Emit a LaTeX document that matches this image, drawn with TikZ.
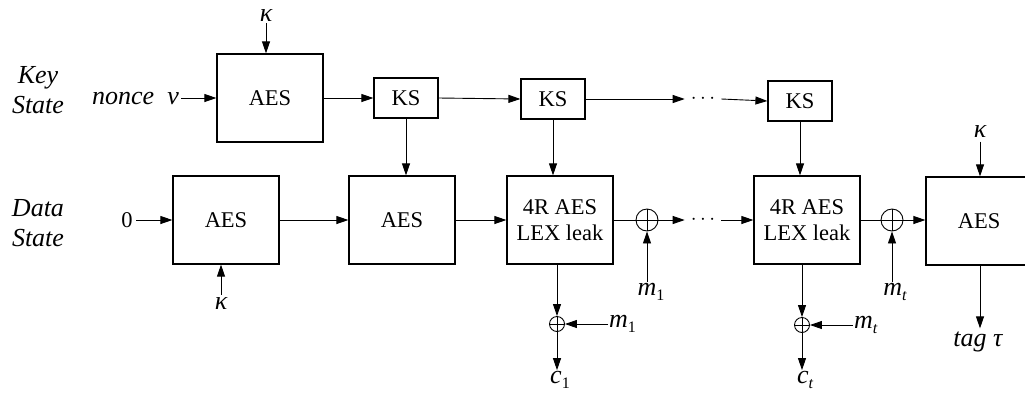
\documentclass[tikz,border=0pt]{standalone}
\usepackage{fontspec}
\setmainfont{Liberation Serif}
\usetikzlibrary{arrows.meta}
\newcommand{\subx}[1]{\raisebox{-5pt}{\fontsize{16}{16}\selectfont #1}}
\begin{document}
\begin{tikzpicture}[x=1pt,y=-1pt,
  every node/.style={font=\fontsize{22.5}{26}\selectfont},
  it/.style={font=\itshape\fontsize{26}{30}\selectfont},
  blk/.style={draw,line width=1.2pt,inner sep=0pt,align=center},
  big/.style={blk,minimum width=106pt,minimum height=88pt},
  ksb/.style={blk,minimum width=64pt,minimum height=40pt},
  arr/.style={line width=0.9pt,-{Triangle[length=12pt,width=8pt]}},
  ln/.style={line width=0.9pt},
  side/.style={it,align=center},
  xorb/.style={circle,draw,line width=0.9pt,minimum size=22pt,inner sep=0pt,
    path picture={\draw[line width=0.9pt]
      (path picture bounding box.north) -- (path picture bounding box.south)
      (path picture bounding box.west) -- (path picture bounding box.east);}},
  xors/.style={xorb,minimum size=15pt}]
\useasboundingbox (0,0) rectangle (1025,392);

% side labels
\node[side] (keylab) at (38,90) {Key\\State};
\node[side] (datalab) at (38,223) {Data\\State};

% key row
\node[big] (kaes) at (270,98) {AES};
\node[it,inner sep=1pt] (k1) at (266,16) {κ};
\node[it,anchor=east,inner sep=2pt] (nonce) at (181,98) {nonce\ \ ν};
\node[ksb] (ks1) at (406,98) {KS};
\node[ksb] (ks2) at (553,99) {KS};
\node[inner sep=6pt] (dk) at (703,99) {$\cdots$};
\node[ksb] (ks3) at (800,101) {KS};

\draw[arr] (k1.south) -- (k1.south |- kaes.north);
\draw[arr] (nonce.east) -- (kaes.west);
\draw[arr] (kaes.east |- ks1.west) -- (ks1.west);
\draw[arr] (ks1.east) -- (ks2.west);
\draw[arr] (ks2.east) -- (dk.west);
\draw[arr] (dk.east) -- (ks3.west);

% data row
\node (zero) at (127,220) {0};
\node[big] (aes1) at (226,220) {AES};
\node[it] (k2) at (221,304) {κ};
\node[big] (aes2) at (402,220) {AES};
\node[big] (lex1) at (560,220) {4R AES\\LEX leak};
\node[xorb] (x1) at (647,220) {};
\node[inner sep=6pt] (dd) at (703,220) {$\cdots$};
\node[big] (lex2) at (807,220) {4R AES\\LEX leak};
\node[xorb] (x2) at (892,220) {};
\node[big] (aesf) at (979,221) {AES};
\node[it] (k3) at (980,132) {κ};
\node[it] (tag) at (978,342) {tag τ};

\draw[arr] (zero.east) -- (aes1.west);
\draw[arr] (k2.north) -- (k2.north |- aes1.south);
\draw[arr] (aes1.east) -- (aes2.west);
\draw[arr] (aes2.east) -- (lex1.west);
\draw[ln] (lex1.east) -- (x1.west);
\draw[arr] (x1.east) -- (dd.west);
\draw[arr] (dd.east) -- (lex2.west);
\draw[ln] (lex2.east) -- (x2.west);
\draw[arr] (x2.east) -- (aesf.west |- x2.east);

\draw[arr] (ks1.south) -- (ks1.south |- aes2.north);
\draw[arr] (ks2.south) -- (ks2.south |- lex1.north);
\draw[arr] (ks3.south) -- (ks3.south |- lex2.north);
\draw[arr] (k3.south) -- (k3.south |- aesf.north);
\draw[arr] (aesf.south -| k3) -- (k3 |- tag.north);

% message inputs to xor
\node[it,inner sep=1pt] (m1a) at (651,292) {m\subx{\upshape 1}};
\node[it,inner sep=1pt] (mta) at (895,292) {m\subx{t}};
\draw[arr] (x1 |- m1a.north) -- (x1.south);
\draw[arr] (x2 |- mta.north) -- (x2.south);

% ciphertext outputs
\node[xors] (s1) at (557,324) {};
\node[xors] (s2) at (802,325) {};
\node[it,anchor=west,inner sep=1pt] (m1b) at (608,324) {m\subx{\upshape 1}};
\node[it,anchor=west,inner sep=1pt] (mtb) at (853,325) {m\subx{t}};
\node[it,inner sep=1pt] (c1) at (560,380) {c\subx{\upshape 1}};
\node[it,inner sep=1pt] (ct) at (805,380) {c\subx{t}};

\draw[arr] (lex1.south -| s1) -- (s1.north);
\draw[arr] (lex2.south -| s2) -- (s2.north);
\draw[arr] (m1b.west) -- (s1.east);
\draw[arr] (mtb.west) -- (s2.east);
\draw[arr] (s1.south) -- (s1 |- c1.north);
\draw[arr] (s2.south) -- (s2 |- ct.north);
\end{tikzpicture}
\end{document}
